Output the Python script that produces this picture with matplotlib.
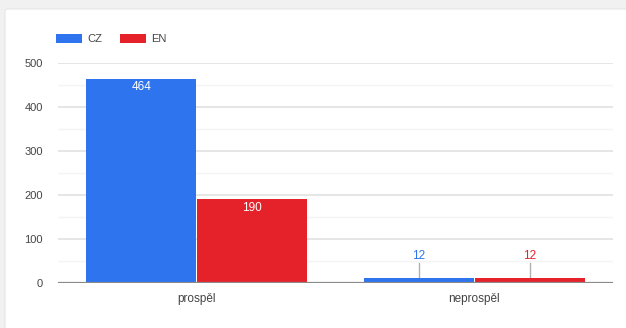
import matplotlib.pyplot as plt
import numpy as np
from matplotlib.patches import FancyBboxPatch

categories = ['prospěl', 'neprospěl']
series_names = ['CZ', 'EN']
cz_values = [464, 12]
en_values = [190, 12]
y_ticks = [0, 100, 200, 300, 400, 500]

colors = ['#2e74ee', '#e52229']
plt.rcParams['font.family'] = ['Liberation Sans', 'DejaVu Sans']

fig = plt.figure(figsize=(6.26, 3.28), dpi=100)
fig.patch.set_facecolor('#f1f1f1')

# white card behind the chart
card = FancyBboxPatch((5 / 626, -0.1), 1.0, 1.1 - 9 / 328,
                      boxstyle='round,pad=0,rounding_size=0.006',
                      transform=fig.transFigure, facecolor='white',
                      edgecolor='#e6e6e6', linewidth=0.8, zorder=-5)
fig.add_artist(card)

ax = fig.add_axes([58 / 626, 1 - 283 / 328, 555 / 626, 220 / 328])
ax.set_facecolor('none')

x = np.arange(len(categories))
width = 0.4
series = [cz_values, en_values]
for i, (name, vals) in enumerate(zip(series_names, series)):
    offs = (i - 0.5) * width
    bars = ax.bar(x + offs, vals, width * 0.99, color=colors[i], label=name,
                  zorder=3)
    for b, v in zip(bars, vals):
        cx = b.get_x() + b.get_width() / 2
        if v > 50:
            ax.text(cx, v - 5, str(v), ha='center', va='top', color='white',
                    fontsize=8.5, zorder=4)
        else:
            ax.plot([cx, cx], [v, v + 34], color='#b0b0b0', lw=1, zorder=2)
            ax.text(cx, v + 35, str(v), ha='center', va='bottom',
                    color=colors[i], fontsize=8.5, zorder=4)

ax.set_xlim(-0.5, 1.5)
ax.set_ylim(0, 500)
ax.set_yticks(y_ticks)
ax.set_yticklabels([str(t) for t in y_ticks])
ax.set_yticks(np.arange(50, 500, 100), minor=True)
ax.set_xticks(x)
ax.set_xticklabels(categories)
ax.tick_params(axis='both', length=0, labelsize=8.5, colors='#444444')
ax.tick_params(axis='y', labelsize=8, pad=11)
ax.tick_params(axis='x', pad=7)
ax.tick_params(axis='y', which='minor', length=0)

ax.grid(axis='y', which='major', color='#e2e2e2', lw=1.2, zorder=0)
ax.grid(axis='y', which='minor', color='#f4f4f4', lw=1, zorder=0)
ax.axhline(0, color='#8a8a8a', lw=1.6, zorder=5)
for s in ax.spines.values():
    s.set_visible(False)

leg = ax.legend(loc='lower left', bbox_to_anchor=(-0.003, 1.085), ncol=2,
                frameon=False, fontsize=8, handlelength=2.3,
                handleheight=1.0, columnspacing=1.6, handletextpad=0.5,
                borderaxespad=0, borderpad=0)
for t in leg.get_texts():
    t.set_color('#444444')

fig.savefig('out.png', dpi=100)
